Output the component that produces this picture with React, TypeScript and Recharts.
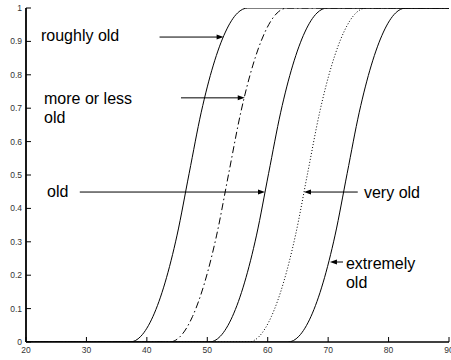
import React from 'react';
import { LineChart, Line, XAxis, YAxis, ReferenceLine, ReferenceDot } from 'recharts';

const xTicks = [20, 30, 40, 50, 60, 70, 80, 90];
const yTicks = [0, 0.1, 0.2, 0.3, 0.4, 0.5, 0.6, 0.7, 0.8, 0.9, 1];
const yTickLabels = ['0', '0.1', '0.2', '0.3', '0.4', '0.5', '0.6', '0.7', '0.8', '0.9', '1'];

const roughlyOldX = [20, 37.2, 39, 41, 43, 45, 47, 49, 51, 53, 55, 56.7, 90];
const roughlyOldY = [0, 0, 0.017, 0.076, 0.177, 0.32, 0.505, 0.688, 0.829, 0.928, 0.985, 1, 1];
const moreOrLessOldX = [20, 43.75, 45.55, 47.55, 49.55, 51.55, 53.55, 55.55, 57.55, 59.55, 61.55, 63.25, 90];
const moreOrLessOldY = [0, 0, 0.017, 0.076, 0.177, 0.32, 0.505, 0.688, 0.829, 0.928, 0.985, 1, 1];
const oldX = [20, 50.35, 52.15, 54.15, 56.15, 58.15, 60.15, 62.15, 64.15, 66.15, 68.15, 69.85, 90];
const oldY = [0, 0, 0.017, 0.076, 0.177, 0.32, 0.505, 0.688, 0.829, 0.928, 0.985, 1, 1];
const veryOldX = [20, 56.8, 58.6, 60.6, 62.6, 64.6, 66.6, 68.6, 70.6, 72.6, 74.6, 76.3, 90];
const veryOldY = [0, 0, 0.017, 0.076, 0.177, 0.32, 0.505, 0.688, 0.829, 0.928, 0.985, 1, 1];
const extremelyOldX = [20, 63.35, 65.15, 67.15, 69.15, 71.15, 73.15, 75.15, 77.15, 79.15, 81.15, 82.85, 90];
const extremelyOldY = [0, 0, 0.017, 0.076, 0.177, 0.32, 0.505, 0.688, 0.829, 0.928, 0.985, 1, 1];

const noteLabels = ['roughly old', 'more or less', 'old', 'old', 'very old', 'extremely', 'old'];
const noteX = [22.48, 22.98, 22.98, 23.48, 75.93, 72.95, 72.95];
const noteY = [0.901, 0.7126, 0.656, 0.434, 0.431, 0.2186, 0.1617];

const arrowFromX = [42.1, 45.65, 28.9, 74.9, 72.46];
const arrowToX = [52.7, 56.2, 59.55, 66.0, 70.3];
const arrowY = [0.913, 0.731, 0.449, 0.449, 0.2395];

const pts = (xs: number[], ys: number[]) => xs.map((x, i) => ({ x, y: ys[i] }));

const FONT = '"Liberation Sans", Arial, Helvetica, sans-serif';
const TICK_LEN = 5;

const BottomTick = (p: any) => {
  const { x, y, payload } = p;
  return (
    <g>
      <line x1={x} x2={x} y1={y} y2={y - TICK_LEN} stroke="#000" strokeWidth={1} />
      <text x={x} y={y + 11} textAnchor="middle" fontSize={8.5} fill="#333" fontFamily={FONT}>
        {payload.value}
      </text>
    </g>
  );
};

const LeftTick = (p: any) => {
  const { x, y, payload, index } = p;
  return (
    <g>
      <line x1={x} x2={x + TICK_LEN} y1={y} y2={y} stroke="#000" strokeWidth={1} />
      <text x={x - 4} y={y + 3} textAnchor="end" fontSize={8.5} fill="#333" fontFamily={FONT}>
        {yTickLabels[index] ?? payload.value}
      </text>
    </g>
  );
};

const TopTick = (p: any) => {
  const { x, y } = p;
  return <line x1={x} x2={x} y1={y} y2={y + TICK_LEN} stroke="#000" strokeWidth={1} />;
};

const RightTick = (p: any) => {
  const { x, y } = p;
  return <line x1={x} x2={x - TICK_LEN} y1={y} y2={y} stroke="#000" strokeWidth={1} />;
};

const ArrowShape = (p: any) => {
  const { x1, y1, x2, y2 } = p;
  const dir = x2 > x1 ? 1 : -1;
  const hl = 7;
  const hw = 2.5;
  return (
    <g>
      <line x1={x1} y1={y1} x2={x2 - dir * hl * 0.8} y2={y2} stroke="#000" strokeWidth={1} />
      <polygon
        points={`${x2},${y2} ${x2 - dir * hl},${y2 - hw} ${x2 - dir * hl},${y2 + hw}`}
        fill="#000"
      />
    </g>
  );
};

const makeText = (label: string) => (p: any) => (
  <text x={p.cx} y={p.cy} fontSize={16} fill="#000" fontFamily={FONT}>
    {label}
  </text>
);

export default function App() {
  return (
    <div style={{ position: 'absolute', left: 0, top: 0, width: 451, height: 360, background: '#fff' }}>
      <LineChart width={451} height={360} margin={{ top: 8, right: 2, left: 0, bottom: 0 }}>
        <XAxis
          xAxisId="bottom"
          type="number"
          dataKey="x"
          domain={[20, 90]}
          ticks={xTicks}
          allowDataOverflow
          height={18}
          tickSize={0}
          tickMargin={0}
          tickLine={false}
          axisLine={{ stroke: '#000', strokeWidth: 1.6 }}
          tick={<BottomTick />}
          interval={0}
        />
        <XAxis
          xAxisId="top"
          orientation="top"
          type="number"
          dataKey="x"
          domain={[20, 90]}
          ticks={xTicks}
          allowDataOverflow
          height={0}
          tickSize={0}
          tickMargin={0}
          tickLine={false}
          axisLine={{ stroke: '#000', strokeWidth: 1 }}
          tick={<TopTick />}
          interval={0}
        />
        <YAxis
          yAxisId="left"
          type="number"
          domain={[0, 1]}
          ticks={yTicks}
          allowDataOverflow
          width={26}
          tickSize={0}
          tickMargin={0}
          tickLine={false}
          axisLine={{ stroke: '#000', strokeWidth: 1.8 }}
          tick={<LeftTick />}
          interval={0}
        />
        <YAxis
          yAxisId="right"
          orientation="right"
          type="number"
          domain={[0, 1]}
          ticks={yTicks}
          allowDataOverflow
          width={0}
          tickSize={0}
          tickMargin={0}
          tickLine={false}
          axisLine={{ stroke: '#000', strokeWidth: 1 }}
          tick={<RightTick />}
          interval={0}
        />
        <Line xAxisId="bottom" yAxisId="left" data={pts(roughlyOldX, roughlyOldY)} dataKey="y" type="monotone" stroke="#000" strokeWidth={1} dot={false} isAnimationActive={false} />
        <Line xAxisId="bottom" yAxisId="left" data={pts(moreOrLessOldX, moreOrLessOldY)} dataKey="y" type="monotone" stroke="#000" strokeWidth={1} strokeDasharray="7 3 1.5 3" dot={false} isAnimationActive={false} />
        <Line xAxisId="bottom" yAxisId="left" data={pts(oldX, oldY)} dataKey="y" type="monotone" stroke="#000" strokeWidth={1} dot={false} isAnimationActive={false} />
        <Line xAxisId="bottom" yAxisId="left" data={pts(veryOldX, veryOldY)} dataKey="y" type="monotone" stroke="#000" strokeWidth={1} strokeDasharray="1 2" dot={false} isAnimationActive={false} />
        <Line xAxisId="bottom" yAxisId="left" data={pts(extremelyOldX, extremelyOldY)} dataKey="y" type="monotone" stroke="#000" strokeWidth={1} dot={false} isAnimationActive={false} />
        {arrowY.map((y, i) => (
          <ReferenceLine
            key={`a${i}`}
            xAxisId="bottom"
            yAxisId="left"
            segment={[{ x: arrowFromX[i], y }, { x: arrowToX[i], y }]}
            shape={ArrowShape}
          />
        ))}
        {noteLabels.map((label, i) => (
          <ReferenceDot
            key={`n${i}`}
            xAxisId="bottom"
            yAxisId="left"
            x={noteX[i]}
            y={noteY[i]}
            r={0}
            shape={makeText(label)}
          />
        ))}
      </LineChart>
    </div>
  );
}
